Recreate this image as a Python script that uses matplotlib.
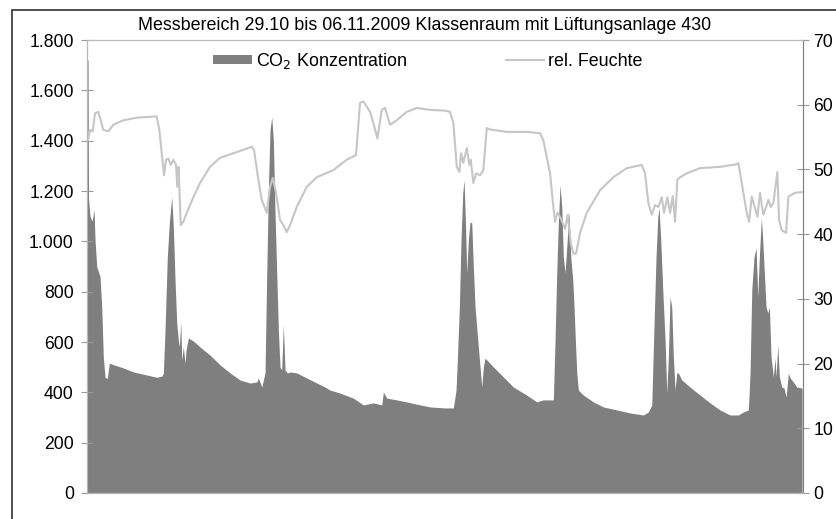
import matplotlib
matplotlib.use('Agg')
import matplotlib.pyplot as plt
from matplotlib.patches import Rectangle, Patch
from matplotlib.lines import Line2D
from matplotlib.ticker import FuncFormatter, MultipleLocator

plt.rcParams['font.family'] = ['Liberation Sans', 'DejaVu Sans']

title = 'Messbereich 29.10 bis 06.11.2009 Klassenraum mit Lüftungsanlage 430'

# Stunden seit Messbeginn / CO2 in ppm
t_co2 = [0.0, 0.27, 0.40, 0.80, 1.34, 1.88, 2.15, 2.60, 3.49, 3.94, 4.37, 4.83, 5.44, 5.98,
         7.05, 9.73, 12.42, 16.01, 18.69, 20.03, 20.46, 20.92, 21.53, 22.07, 22.71, 23.14,
         23.60, 24.05, 24.48, 24.75, 25.13, 25.40, 25.82, 26.28, 26.55, 27.16, 28.51, 30.30,
         32.98, 35.67, 38.35, 41.03, 43.71, 45.51, 45.94, 46.85, 47.73, 48.19, 48.62, 49.07,
         49.53, 49.96, 50.41, 50.87, 51.30, 51.75, 52.21, 52.64, 53.10, 53.71, 54.44, 56.23,
         58.91, 61.60, 63.82, 65.16, 67.84, 71.41, 74.09, 76.77, 79.03, 79.46, 80.37, 83.05,
         85.73, 89.30, 91.98, 96.00, 98.23, 98.95, 99.30, 99.84, 100.29, 100.75, 101.10,
         101.45, 101.82, 102.25, 102.71, 103.16, 103.59, 104.05, 104.93, 105.84, 106.27,
         106.73, 108.95, 111.64, 114.32, 117.91, 120.59, 122.36, 125.04, 125.50, 125.95,
         126.38, 126.84, 127.30, 127.72, 128.18, 128.64, 129.25, 129.71, 130.25, 130.59,
         130.94, 131.32, 131.75, 133.09, 135.77, 138.45, 142.05, 145.61, 149.18, 150.52,
         151.43, 152.05, 152.58, 153.04, 153.39, 153.84, 154.38, 155.00, 155.45, 155.88,
         156.34, 156.79, 157.22, 157.68, 158.13, 158.56, 159.47, 161.70, 164.38, 167.06,
         169.74, 172.43, 174.65, 175.99, 177.33, 177.79, 178.25, 178.86, 179.40, 179.85,
         180.28, 180.82, 181.19, 181.62, 182.08, 182.53, 182.96, 183.42, 184.04, 184.49,
         184.76, 185.22, 185.65, 186.29, 186.91, 187.44, 188.06, 188.52, 189.40, 190.31, 191.73]
co2 = [1720, 1720, 1170, 1100, 1080, 1125, 1005, 900, 860, 740, 540, 460, 455, 516,
       510, 497, 481, 469, 460, 464, 475, 648, 938, 1073, 1177, 1057,
       846, 675, 608, 580, 680, 528, 580, 516, 568, 616, 604, 580,
       548, 509, 477, 449, 437, 441, 457, 421, 477, 874, 1204, 1443,
       1494, 1403, 1113, 874, 648, 501, 489, 668, 489, 477, 481, 477,
       457, 437, 421, 409, 397, 377, 350, 358, 350, 401, 377, 370,
       362, 350, 342, 338, 338, 409, 528, 739, 1005, 1192, 1244,
       1085, 874, 1005, 1077, 1073, 898, 739, 580, 421, 501,
       536, 501, 461, 421, 389, 362, 370, 370, 608, 874,
       1073, 1224, 1137, 938, 874, 978, 1117, 938, 846, 740,
       608, 477, 409, 389, 362, 342, 330, 318, 310, 322,
       350, 675, 938, 1097, 1133, 1005, 807, 608, 397, 540,
       779, 739, 540, 409, 477, 477, 449, 421, 389, 358,
       330, 310, 310, 322, 330, 477, 807, 938, 974, 779,
       938, 1093, 1005, 874, 739, 715, 739, 540, 461, 536,
       461, 588, 461, 421, 417, 381, 477, 457, 441, 421, 417]

# Stunden seit Messbeginn / relative Feuchte in %
t_rh = [0.0, 0.27, 0.80, 1.53, 2.15, 3.03, 3.67, 4.37, 5.71, 7.05, 9.73, 13.33, 18.69,
        19.39, 20.03, 20.65, 21.18, 21.80, 22.45, 23.14, 23.87, 24.21, 24.54, 25.13,
        25.82, 26.74, 28.51, 30.30, 32.98, 35.67, 39.23, 44.17, 44.78, 45.94, 46.85,
        48.19, 49.07, 49.80, 50.68, 51.75, 52.64, 53.55, 54.44, 56.23, 58.91, 61.60,
        66.05, 69.64, 72.13, 73.21, 74.09, 75.89, 76.77, 77.85, 79.03, 79.91, 81.25,
        83.05, 85.73, 88.41, 91.98, 96.00, 97.34, 98.23, 99.14, 99.84, 100.29, 100.91,
        101.82, 102.52, 102.89, 103.59, 104.32, 105.39, 106.27, 107.18, 107.88, 112.55,
        117.91, 121.48, 122.36, 124.16, 125.04, 125.50, 126.12, 126.84, 128.18, 128.91,
        129.71, 130.41, 131.13, 132.20, 134.00, 137.57, 141.14, 144.73, 148.75, 149.63,
        150.52, 151.43, 152.32, 153.20, 154.11, 154.73, 155.61, 156.34, 157.06, 157.68,
        158.29, 159.02, 160.81, 164.38, 169.74, 174.22, 174.65, 175.99, 176.90, 177.52,
        178.25, 179.13, 179.75, 180.48, 180.93, 181.36, 182.08, 182.70, 183.34, 184.04,
        185.11, 185.56, 186.29, 187.44, 188.06, 189.86, 191.73]
rh = [56.5, 54.5, 56.1, 55.9, 58.7, 58.9, 57.6, 56.1, 55.9, 56.9, 57.6, 58.0, 58.2,
      56.1, 52.5, 49.1, 51.5, 51.7, 50.7, 51.5, 50.7, 47.3, 50.4, 41.4,
      41.9, 43.3, 45.7, 47.9, 50.4, 51.8, 52.5, 53.5, 53.0, 48.4, 45.3,
      43.3, 47.3, 48.7, 46.4, 42.2, 41.4, 40.3, 41.4, 44.2, 47.3, 48.8,
      49.9, 51.5, 52.2, 60.3, 60.5, 58.9, 57.2, 54.8, 59.2, 59.5, 56.9,
      57.6, 58.9, 59.5, 59.2, 59.1, 58.9, 57.2, 50.4, 49.6, 52.5, 51.0,
      53.3, 50.7, 51.5, 47.9, 49.4, 49.1, 49.9, 56.4, 56.2, 55.8,
      55.8, 55.6, 54.5, 49.4, 44.2, 41.9, 43.3, 42.7, 40.8, 43.0,
      38.6, 37.0, 37.0, 40.2, 43.3, 46.8, 48.8, 50.2, 50.7, 49.4,
      44.8, 43.0, 44.5, 44.2, 45.7, 43.3, 45.7, 43.3, 45.9, 41.9,
      48.4, 48.8, 49.4, 50.2, 50.4, 50.8, 51.0, 46.4, 43.3, 41.9,
      45.8, 44.0, 42.7, 46.4, 44.5, 43.0, 44.2, 45.3, 44.2, 44.8,
      49.6, 42.2, 40.6, 40.2, 45.8, 46.4, 46.5]

fig = plt.figure(figsize=(8.36, 5.19), dpi=100)
ax = fig.add_axes([0.1041, 0.0501, 0.8565, 0.8728])
ax2 = ax.twinx()

ax.fill_between(t_co2, co2, color='#7f7f7f', lw=0)
ax2.plot(t_rh, rh, color='#c6c6c6', lw=1.5)

ax.set_xlim(0, 192)
ax.set_ylim(0, 1800)
ax2.set_ylim(0, 70)
ax.yaxis.set_major_locator(MultipleLocator(200))
ax2.yaxis.set_major_locator(MultipleLocator(10))
ax.yaxis.set_major_formatter(FuncFormatter(lambda v, p: f'{int(v):,}'.replace(',', '.')))
ax.set_xticks([])

for a in (ax, ax2):
    for s in a.spines.values():
        s.set_color('#b8b8b8')
        s.set_linewidth(0.8)
ax.spines['left'].set_color('#808080')
ax2.spines['right'].set_color('#808080')
ax.tick_params(axis='y', direction='inout', length=9, color='#999999', labelsize=12.7, pad=5)
ax2.tick_params(axis='y', direction='inout', length=9, color='#999999', labelsize=12.7, pad=3)

fig.text(0.508, 0.942, title, ha='center', va='baseline', fontsize=12.9)

handles = [Patch(facecolor='#7f7f7f', edgecolor='none', label='CO$_2$ Konzentration'),
           Line2D([], [], color='#c6c6c6', lw=1.5, label='rel. Feuchte')]
ax.legend(handles=handles, loc='center left', bbox_to_anchor=(0.176, 0.954), ncol=2,
          frameon=False, fontsize=12.9, handlelength=2.15, handleheight=0.45,
          handletextpad=0.22, columnspacing=5.5, borderpad=0, borderaxespad=0)

fig.add_artist(Rectangle((12 / 836, -0.05), 1.1, 0.9807 + 0.05, transform=fig.transFigure,
                         fill=False, edgecolor='#303030', lw=1.2))

fig.savefig('out.png', dpi=100)
